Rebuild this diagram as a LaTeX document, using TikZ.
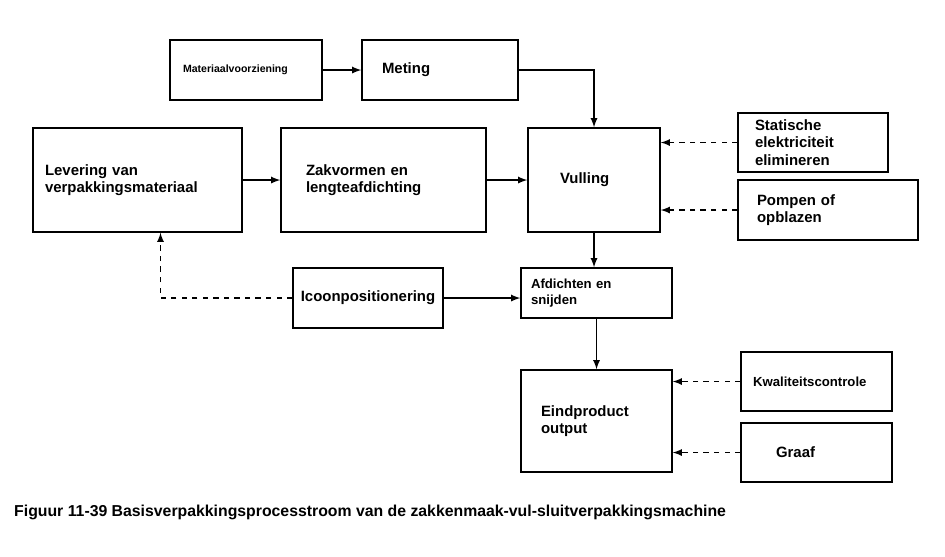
\documentclass[tikz,border=0pt]{standalone}
\usepackage{fontspec}
\setmainfont{Liberation Sans}
\usetikzlibrary{arrows}
\usetikzlibrary{positioning}

\begin{document}
\begin{tikzpicture}[x=0.02cm,y=-0.02cm,font=\bfseries\fontsize{8.5}{10}\selectfont]
  \tikzset{stage/.style={rectangle, draw, thick, align=left, inner sep=0pt}}
  \tikzset{to/.style={-latex, thick}}
  \tikzset{aid/.style={-latex, thick, dashed}}
  \useasboundingbox (0,0) rectangle (945,556);
  \node[stage, minimum width=3.04cm, minimum height=1.2cm, text width=2.52cm,
    font=\bfseries\fontsize{6}{7}\selectfont] (supply) at (246,70) {Materiaalvoorziening};
  \node[stage, minimum width=3.12cm, minimum height=1.2cm, text width=2.32cm] (measure) at (440,70) {Meting};
  \node[stage, minimum width=4.18cm, minimum height=2.08cm, text width=3.7cm] (delivery) at (137.5,180) {Levering van\\verpakkingsmateriaal};
  \node[stage, minimum width=4.1cm, minimum height=2.08cm, text width=3.1cm] (forming) at (383.5,180) {Zakvormen en\\lengteafdichting};
  \node[stage, minimum width=2.64cm, minimum height=2.08cm, text width=1.36cm] (filling) at (594,180) {Vulling\\[4pt]};
  \node[stage, minimum width=3cm, minimum height=1.18cm, text width=2.32cm] (static) at (813,142.5) {Statische\\elektriciteit\\elimineren};
  \node[stage, minimum width=3.6cm, minimum height=1.2cm, text width=2.84cm] (pump) at (828,210) {Pompen of\\opblazen};
  \node[stage, minimum width=3cm, minimum height=1.2cm, align=center] (icon) at (368,298) {Icoonpositionering};
  \node[stage, minimum width=3.02cm, minimum height=1cm, text width=2.62cm,
    font=\bfseries\fontsize{7.5}{9}\selectfont] (sealing) at (596.5,293) {Afdichten en\\snijden};
  \node[stage, minimum width=3.02cm, minimum height=2.04cm, text width=2.22cm] (output) at (596.5,421) {Eindproduct\\output};
  \node[stage, minimum width=3.02cm, minimum height=1.18cm, text width=2.54cm,
    font=\bfseries\fontsize{7.5}{9}\selectfont] (quality) at (816.5,381.5) {Kwaliteitscontrole};
  \node[stage, minimum width=3.02cm, minimum height=1.18cm, text width=1.62cm] (graph) at (816.5,452.5) {Graaf};
  \node[anchor=west, font=\bfseries\fontsize{9}{11}\selectfont] (caption) at (8,512)
    {Figuur 11-39 Basisverpakkingsprocesstroom van de zakkenmaak-vul-sluitverpakkingsmachine};
  \draw[to] (supply) -- (measure);
  \draw[to] (measure.east) -| (filling.north);
  \draw[to] (delivery) -- (forming);
  \draw[to] (forming) -- (filling);
  \draw[aid] (static.west) -- (static.west -| filling.east);
  \draw[aid] (pump.west) -- (pump.west -| filling.east);
  \draw[to] (filling.south) -- (filling.south |- sealing.north);
  \draw[to] (icon.east) -- (icon.east -| sealing.west);
  \draw[aid] (icon.west) -| ([xshift=0.46cm]delivery.south);
  \draw[to] (sealing) -- (output);
  \draw[aid] (quality.west) -- (quality.west -| output.east);
  \draw[aid] (graph.west) -- (graph.west -| output.east);
\end{tikzpicture}
\end{document}
